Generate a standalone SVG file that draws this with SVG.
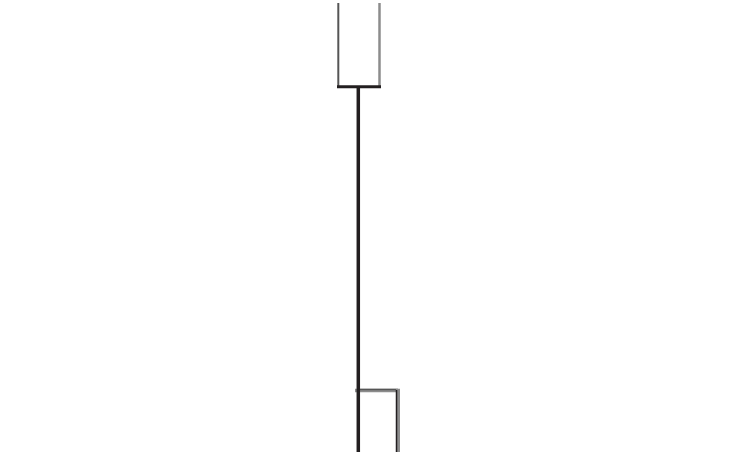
<svg xmlns="http://www.w3.org/2000/svg" width="736" height="460" viewBox="0 0 736 460">
<style>
.dark{stroke:#231f20;fill:none}
.grey{stroke:#8c8c8c;fill:none}
.mid{stroke:#555;fill:none}
</style>
<rect width="736" height="460" fill="#fff"/>
<g id="top-node">
<line class="mid" x1="338.3" y1="3" x2="338.3" y2="87" stroke-width="2"/>
<line class="grey" x1="379.5" y1="3" x2="379.5" y2="87" stroke-width="2.5"/>
<line class="dark" x1="337" y1="86.8" x2="381" y2="86.8" stroke-width="3"/>
</g>
<g id="bottom-node">
<line class="grey" x1="355" y1="390.5" x2="400" y2="390.5" stroke-width="3.5"/>
<line class="mid" x1="358" y1="389.5" x2="398" y2="389.5" stroke-width="1.5"/>
<line class="grey" x1="398" y1="389" x2="398" y2="452" stroke-width="4"/>
<line class="dark" x1="396.5" y1="390" x2="396.5" y2="452" stroke-width="1.5"/>
</g>
<g id="connectors">
<line class="dark" x1="358.3" y1="86" x2="358.3" y2="452" stroke-width="3.5"/>
</g>
</svg>
